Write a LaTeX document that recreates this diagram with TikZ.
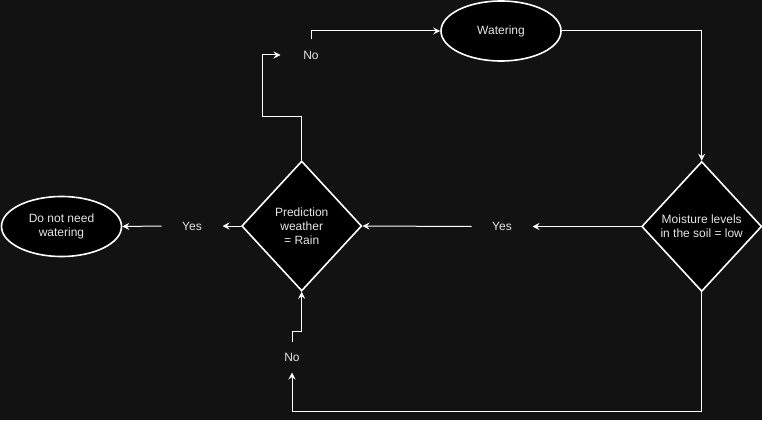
\documentclass[tikz,border=0pt]{standalone}
\usepackage{fontspec}
\setmainfont{Liberation Sans}
\usetikzlibrary{shapes.geometric,arrows.meta}
\definecolor{bgdark}{HTML}{121212}
\definecolor{txtgray}{HTML}{E6E6E6}
\begin{document}
\begin{tikzpicture}[x=1pt, y=-1pt, >={Stealth[length=7pt,width=7pt,inset=2.5pt]},
  line width=1pt, font=\fontsize{12pt}{14pt}\selectfont, text=txtgray,
  termbox/.style={ellipse, draw=white, fill=black, line width=1.6pt, inner sep=0pt,
    minimum width=120pt, minimum height=60pt, align=center},
  decbox/.style={diamond, draw=white, fill=black, line width=1.6pt, inner sep=0pt,
    minimum width=120pt, minimum height=130pt, align=center},
  lbl/.style={inner sep=0pt, minimum width=60pt, minimum height=30pt}]

% Background
\useasboundingbox (0,0) rectangle (762,420);
\fill[bgdark] (0,0) rectangle (762,420);

% Shapes
\node[termbox] (watering) at (501,31) {Watering};
\node[decbox] (moisture) at (701.7,226.5) {Moisture levels\\in the soil = low};
\node[decbox] (pred) at (301.7,226) {Prediction\\weather\\= Rain};
\node[termbox] (dnw) at (61.5,226.5) {Do not need\\watering};

% Labels
\node[lbl] (yesR) at (502,226.5) {Yes};
\node[lbl] (yesL) at (192,226) {Yes};
\node[lbl] (noT) at (311,55) {No};
\node[lbl] (noB) at (292,357) {No};

% Bends
\coordinate (kneeT) at (262,116);
\coordinate (loopB) at (701.7,411);

% Connectors
\draw[->, white] (watering.east) -| (moisture.north);
\draw[->, white] (moisture.west) -- (yesR.east);
\draw[->, white] (yesR.west) -- (pred.east);
\draw[->, white] (pred.west) -- (yesL.east);
\draw[->, white] (yesL.west) -- (dnw.east);
\draw[->, white] (moisture.south) -- (loopB) -| (noB.south);
\draw[->, white] (noB.north) -- ++(0,-10) -| (pred.south);
\draw[->, white] (pred.north) |- (kneeT) |- (noT.west);
\draw[->, white] (noT.north) |- (watering.west);

\end{tikzpicture}
\end{document}
